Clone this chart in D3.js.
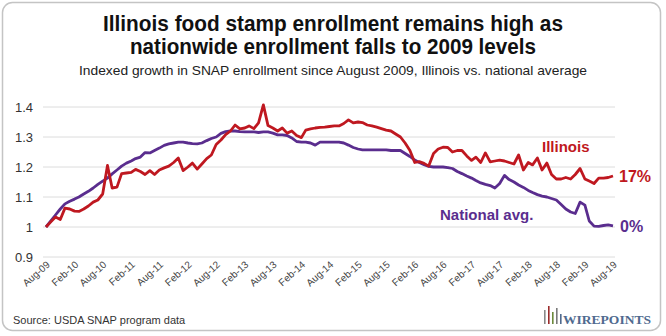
<!DOCTYPE html>
<html>
<head>
<meta charset="utf-8">
<script src="https://cdn.jsdelivr.net/npm/d3@7"></script>
<style>
  html, body { margin: 0; padding: 0; background: #fff; }
  svg { display: block; font-family: "Liberation Sans", Arial, sans-serif; }
</style>
</head>
<body>
<svg id="chart" width="666" height="336"></svg>
<script>
// Monthly SNAP enrollment, indexed to August 2009 = 1.0
const startMonth = new Date(2009, 7, 1);   // Aug 2009
const endMonth = new Date(2019, 7, 1);     // Aug 2019

const illinois = [
  1.000, 1.017, 1.033, 1.025, 1.063, 1.060, 1.053, 1.052, 1.060, 1.070,
  1.083, 1.090, 1.110, 1.205, 1.130, 1.133, 1.178, 1.180, 1.182, 1.192,
  1.185, 1.175, 1.188, 1.175, 1.190, 1.197, 1.203, 1.215, 1.230, 1.188,
  1.200, 1.213, 1.193, 1.210, 1.228, 1.240, 1.275, 1.290, 1.308, 1.320,
  1.340, 1.327, 1.330, 1.337, 1.328, 1.347, 1.407, 1.338, 1.330, 1.320,
  1.330, 1.313, 1.320, 1.305, 1.298, 1.323, 1.327, 1.330, 1.332, 1.333,
  1.335, 1.337, 1.337, 1.345, 1.357, 1.347, 1.350, 1.348, 1.340, 1.337,
  1.333, 1.328, 1.323, 1.320, 1.310, 1.300, 1.280, 1.255, 1.215, 1.218,
  1.212, 1.203, 1.245, 1.260, 1.266, 1.265, 1.250, 1.255, 1.255, 1.237,
  1.222, 1.233, 1.215, 1.247, 1.217, 1.220, 1.223, 1.220, 1.215, 1.210,
  1.240, 1.190, 1.215, 1.207, 1.230, 1.190, 1.213, 1.175, 1.160, 1.160,
  1.165, 1.160, 1.175, 1.195, 1.160, 1.153, 1.145, 1.163, 1.163, 1.165,
  1.170
];

const national = [
  1.000, 1.020, 1.040, 1.060, 1.077, 1.086, 1.093, 1.100, 1.110, 1.119,
  1.130, 1.142, 1.153, 1.163, 1.177, 1.190, 1.203, 1.213, 1.220, 1.228,
  1.233, 1.248, 1.247, 1.255, 1.263, 1.272, 1.277, 1.280, 1.283, 1.283,
  1.280, 1.278, 1.277, 1.280, 1.288, 1.295, 1.300, 1.312, 1.318, 1.320,
  1.320, 1.318, 1.317, 1.317, 1.317, 1.315, 1.317, 1.317, 1.313, 1.307,
  1.307, 1.305, 1.297, 1.285, 1.283, 1.283, 1.280, 1.273, 1.283, 1.283,
  1.283, 1.283, 1.283, 1.280, 1.273, 1.265, 1.260, 1.257, 1.257, 1.257,
  1.257, 1.257, 1.257, 1.255, 1.255, 1.255, 1.245, 1.235, 1.223, 1.215,
  1.208, 1.202, 1.200, 1.200, 1.200, 1.198, 1.195, 1.185, 1.178, 1.170,
  1.163, 1.155, 1.147, 1.142, 1.138, 1.130, 1.145, 1.172, 1.158, 1.150,
  1.140, 1.132, 1.122, 1.115, 1.108, 1.103, 1.100, 1.095, 1.090, 1.075,
  1.060, 1.050, 1.045, 1.083, 1.073, 1.020, 1.003, 1.002, 1.005, 1.007,
  1.004
];

const yTicks = [0.9, 1.0, 1.1, 1.2, 1.3, 1.4];
const yTickLabels = ["0.9", "1", "1.1", "1.2", "1.3", "1.4"];

const xTickLabels = [
  "Aug-09", "Feb-10", "Aug-10", "Feb-11", "Aug-11", "Feb-12", "Aug-12",
  "Feb-13", "Aug-13", "Feb-14", "Aug-14", "Feb-15", "Aug-15", "Feb-16",
  "Aug-16", "Feb-17", "Aug-17", "Feb-18", "Aug-18", "Feb-19", "Aug-19"
];

const seriesNames = ["Illinois", "National avg."];
const endLabels = ["17%", "0%"];
const colors = { illinois: "#bf1820", national: "#5a2d8e" };

const months = illinois.map((_, i) => d3.timeMonth.offset(startMonth, i));
const xTicks = xTickLabels.map((_, i) => d3.timeMonth.offset(startMonth, i * 6));

const svg = d3.select("#chart");

// Card frame
svg.append("rect")
  .attr("x", 2.5).attr("y", 2.5)
  .attr("width", 658).attr("height", 328)
  .attr("rx", 10).attr("ry", 10)
  .attr("fill", "#fff")
  .attr("stroke", "#c4c4c4")
  .attr("stroke-width", 1.5);

// Titles
function fitText(sel, width) {
  sel.attr("textLength", width).attr("lengthAdjust", "spacingAndGlyphs");
}
svg.append("text")
  .attr("x", 333).attr("y", 31)
  .attr("text-anchor", "middle")
  .attr("font-size", 22).attr("font-weight", "bold").attr("fill", "#111")
  .text("Illinois food stamp enrollment remains high as")
  .call(fitText, 460);
svg.append("text")
  .attr("x", 333).attr("y", 54)
  .attr("text-anchor", "middle")
  .attr("font-size", 22).attr("font-weight", "bold").attr("fill", "#111")
  .text("nationwide enrollment falls to 2009 levels")
  .call(fitText, 406);
svg.append("text")
  .attr("x", 333).attr("y", 75)
  .attr("text-anchor", "middle")
  .attr("font-size", 13.5).attr("fill", "#222")
  .text("Indexed growth in SNAP enrollment since August 2009, Illinois vs. national average")
  .call(fitText, 508);

// Scales
const x = d3.scaleTime().domain([startMonth, endMonth]).range([46, 613]);
const y = d3.scaleLinear().domain([1.0, 1.4]).range([227, 107]);

// Grid lines
svg.append("g")
  .selectAll("line")
  .data(yTicks)
  .join("line")
  .attr("x1", 43).attr("x2", 615)
  .attr("y1", d => y(d)).attr("y2", d => y(d))
  .attr("stroke", "#dcdcdc")
  .attr("stroke-width", 1);

// Y axis labels
const yAxis = d3.axisLeft(y)
  .tickValues(yTicks)
  .tickSize(0)
  .tickPadding(0)
  .tickFormat((d, i) => yTickLabels[i]);
const gy = svg.append("g").attr("transform", "translate(33,0)").call(yAxis);
gy.select(".domain").remove();
gy.selectAll("text")
  .attr("font-family", "'Liberation Sans', Arial, sans-serif")
  .attr("font-size", 13).attr("fill", "#333").attr("dy", "0.35em");

// X axis labels (rotated)
const xAxis = d3.axisBottom(x)
  .tickValues(xTicks)
  .tickSize(0)
  .tickPadding(0)
  .tickFormat((d, i) => xTickLabels[i]);
const gx = svg.append("g").attr("transform", "translate(0,261)").call(xAxis);
gx.select(".domain").remove();
gx.selectAll("text")
  .attr("font-family", "'Liberation Sans', Arial, sans-serif")
  .attr("font-size", 10).attr("fill", "#444")
  .attr("text-anchor", "end")
  .attr("x", 0).attr("y", 0)
  .attr("dx", 0).attr("dy", "0.6em")
  .attr("transform", "rotate(-42)");

// Lines
const line = d3.line()
  .x((d, i) => x(months[i]))
  .y(d => y(d));

svg.append("path")
  .datum(national)
  .attr("fill", "none")
  .attr("stroke", colors.national)
  .attr("stroke-width", 2.8)
  .attr("stroke-linejoin", "round")
  .attr("d", line);

svg.append("path")
  .datum(illinois)
  .attr("fill", "none")
  .attr("stroke", colors.illinois)
  .attr("stroke-width", 2.8)
  .attr("stroke-linejoin", "round")
  .attr("d", line);

// Series labels
svg.append("text")
  .attr("x", 542).attr("y", 152)
  .attr("font-size", 15).attr("font-weight", "bold").attr("fill", colors.illinois)
  .text(seriesNames[0]);
svg.append("text")
  .attr("x", 440).attr("y", 220)
  .attr("font-size", 15).attr("font-weight", "bold").attr("fill", colors.national)
  .text(seriesNames[1]);

const lastI = illinois.length - 1;
svg.append("text")
  .attr("x", 619).attr("y", y(illinois[lastI]) + 6)
  .attr("font-size", 16).attr("font-weight", "bold").attr("fill", colors.illinois)
  .text(endLabels[0]);
svg.append("text")
  .attr("x", 620).attr("y", y(national[lastI]) + 6)
  .attr("font-size", 16).attr("font-weight", "bold").attr("fill", colors.national)
  .text(endLabels[1]);

// Source note
svg.append("text")
  .attr("x", 13).attr("y", 324)
  .attr("font-size", 11).attr("fill", "#333")
  .text("Source: USDA SNAP program data");

// Wirepoints mark
const logo = svg.append("g").attr("transform", "translate(544,306)");
const bars = [
  { x: 0, top: 4, c: "#8a8a8a" },
  { x: 4, top: 0, c: "#9b2c2c" },
  { x: 8, top: 6, c: "#6c8a3c" },
  { x: 12, top: 2, c: "#7a7a7a" },
  { x: 16, top: 8, c: "#4f6a8f" }
];
logo.selectAll("rect")
  .data(bars)
  .join("rect")
  .attr("x", d => d.x).attr("y", d => d.top)
  .attr("width", 1.6).attr("height", d => 18 - d.top)
  .attr("fill", d => d.c);
logo.append("text")
  .attr("x", 19).attr("y", 18)
  .attr("font-family", "'Liberation Serif', 'DejaVu Serif', serif")
  .attr("font-size", 13).attr("font-weight", "bold").attr("fill", "#4f6a8f")
  .text("WIREPOINTS")
  .call(fitText, 88);
</script>
</body>
</html>
